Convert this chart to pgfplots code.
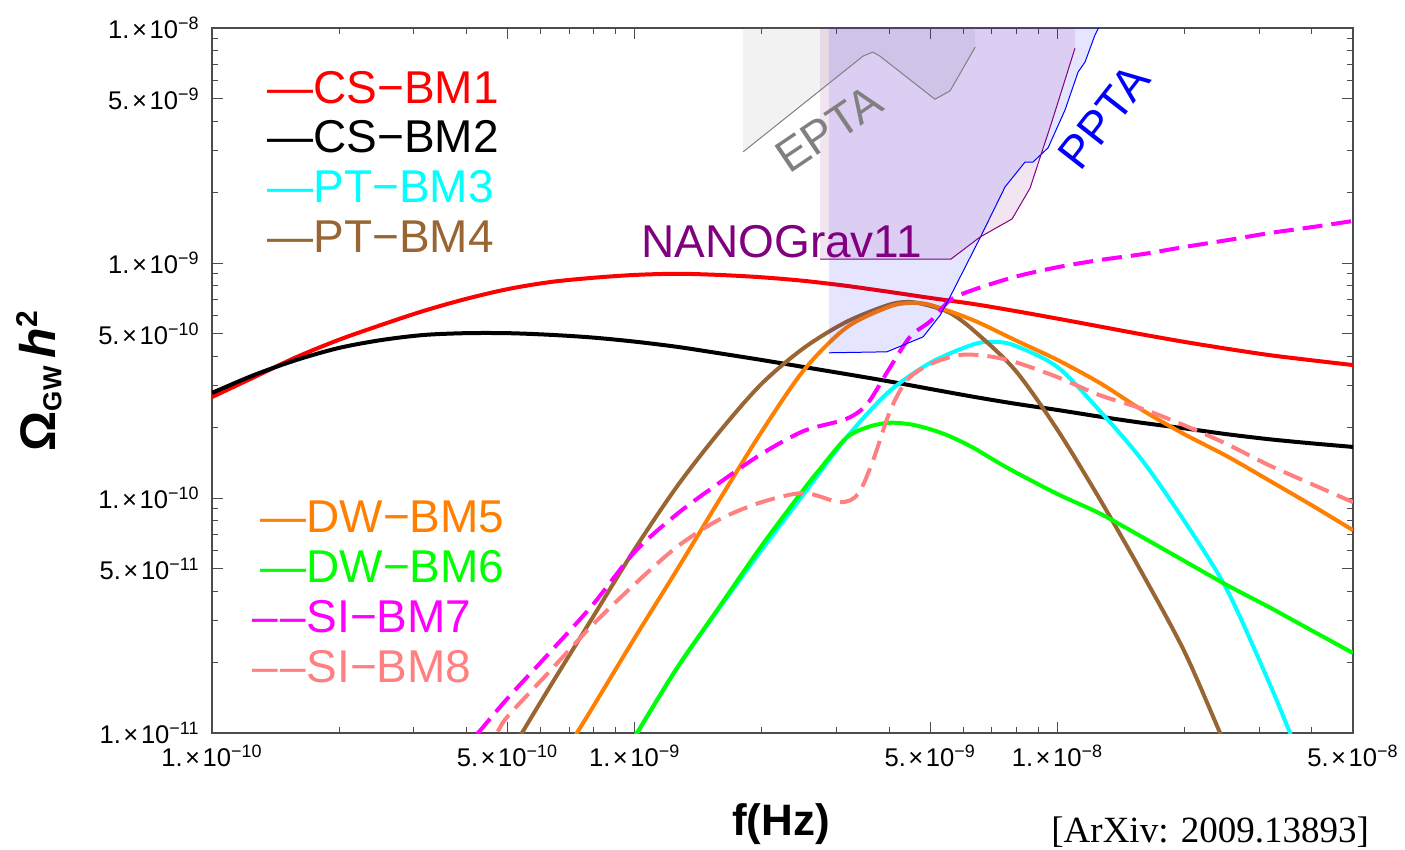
\documentclass[border=0pt]{standalone}
\usepackage{fontspec}
\setmainfont{Liberation Sans}
\newfontfamily\seriffont{Liberation Serif}
\usepackage{pgfplots}
\pgfplotsset{compat=1.18}
\definecolor{mbrown}{rgb}{0.6,0.4,0.2}
\definecolor{morange}{rgb}{1,0.5,0}
\definecolor{mpink}{rgb}{1,0.5,0.5}
\definecolor{mpurple}{rgb}{0.5,0,0.5}
\definecolor{mgreen}{rgb}{0,1,0}
\definecolor{mcyan}{rgb}{0,1,1}
\definecolor{mmag}{rgb}{1,0,1}
\newcommand{\tl}[2]{#1.\kern0.1em×\kern0.1em10\textsuperscript{−#2}}
\newcommand{\legfont}{\fontsize{23bp}{26bp}\selectfont}
\begin{document}
\begin{tikzpicture}
\useasboundingbox (-106bp,-58.5bp) rectangle (596.5bp,366.5bp);
\begin{axis}[
  at={(0,0)}, anchor=south west,
  width=570.5bp, height=352.5bp, scale only axis,
  xmode=log, ymode=log,
  xmin=1e-10, xmax=5e-8, ymin=1e-11, ymax=1e-8,
  xtick={1e-10,5e-10,1e-9,5e-9,1e-8,5e-8},
  xticklabels={\tl{1}{10},\tl{5}{10},\tl{1}{9},\tl{5}{9},\tl{1}{8},\tl{5}{8}},
  minor xtick={2e-10,3e-10,4e-10,6e-10,7e-10,8e-10,9e-10,2e-9,3e-9,4e-9,6e-9,7e-9,8e-9,9e-9,2e-8,3e-8,4e-8},
  ytick={1e-11,5e-11,1e-10,5e-10,1e-9,5e-9,1e-8},
  yticklabels={\tl{1}{11},\tl{5}{11},\tl{1}{10},\tl{5}{10},\tl{1}{9},\tl{5}{9},\tl{1}{8}},
  minor ytick={2e-11,3e-11,4e-11,6e-11,7e-11,8e-11,9e-11,2e-10,3e-10,4e-10,6e-10,7e-10,8e-10,9e-10,2e-9,3e-9,4e-9,6e-9,7e-9,8e-9,9e-9},
  tick label style={font=\fontsize{12.8bp}{14bp}\selectfont},
  xticklabel style={anchor=north, inner sep=0pt, yshift=-6bp},
  yticklabel style={anchor=east, inner sep=0pt, xshift=-6bp},
  axis line style={black!70, line width=0.6bp},
  every tick/.style={black!70, line width=0.5bp},
  major tick length=5.5bp, minor tick length=3bp,
  tick align=inside,
]
% CS-BM1
\addplot[red, line width=2bp, smooth] coordinates {
(1e-10,2.69e-10) (1.259e-10,3.27e-10) (1.585e-10,3.98e-10) (1.995e-10,4.71e-10) (2.512e-10,5.45e-10) (3.162e-10,6.25e-10) (3.981e-10,7.03e-10) (5.012e-10,7.75e-10) (6.31e-10,8.3e-10) (7.943e-10,8.65e-10) (1e-9,8.9e-10) (1.259e-9,9.0e-10) (1.585e-9,8.9e-10) (1.995e-9,8.7e-10) (2.512e-9,8.4e-10) (3.162e-9,8.0e-10) (3.981e-9,7.55e-10) (5.012e-9,7.1e-10) (6.31e-9,6.7e-10) (7.943e-9,6.25e-10) (1e-8,5.8e-10) (1.259e-8,5.37e-10) (1.585e-8,4.97e-10) (1.995e-8,4.62e-10) (2.512e-8,4.32e-10) (3.162e-8,4.06e-10) (3.981e-8,3.86e-10) (5e-8,3.68e-10)};
% CS-BM2
\addplot[black, line width=2bp, smooth] coordinates {
(1e-10,2.8e-10) (1.259e-10,3.34e-10) (1.585e-10,3.87e-10) (1.995e-10,4.35e-10) (2.512e-10,4.7e-10) (3.162e-10,4.94e-10) (3.981e-10,5.03e-10) (5.012e-10,5.03e-10) (6.31e-10,4.95e-10) (7.943e-10,4.82e-10) (1e-9,4.63e-10) (1.259e-9,4.4e-10) (1.585e-9,4.13e-10) (1.995e-9,3.87e-10) (2.512e-9,3.61e-10) (3.162e-9,3.37e-10) (3.981e-9,3.14e-10) (5.012e-9,2.91e-10) (6.31e-9,2.7e-10) (7.943e-9,2.52e-10) (1e-8,2.37e-10) (1.259e-8,2.22e-10) (1.585e-8,2.09e-10) (1.995e-8,1.98e-10) (2.512e-8,1.87e-10) (3.162e-8,1.78e-10) (3.981e-8,1.71e-10) (5e-8,1.65e-10)};
% PT-BM3
\addplot[mcyan, line width=2bp, smooth] coordinates {
(9.08e-10,7.3e-12) (1.0125e-9,1e-11) (1.259e-9,1.89e-11) (1.585e-9,3.4e-11) (1.995e-9,6.0e-11) (2.512e-9,1.04e-10) (3.162e-9,1.8e-10) (3.981e-9,2.82e-10) (5.012e-9,3.77e-10) (6.31e-9,4.5e-10) (7.08e-9,4.62e-10) (7.943e-9,4.45e-10) (1e-8,3.61e-10) (1.259e-8,2.35e-10) (1.585e-8,1.45e-10) (1.995e-8,8.0e-11) (2.512e-8,4.1e-11) (3.162e-8,1.65e-11) (3.55e-8,1e-11) (3.85e-8,7e-12)};
% PT-BM4
\addplot[mbrown, line width=2bp, smooth] coordinates {
(4.85e-10,7.2e-12) (5.41e-10,1e-11) (6.31e-10,1.58e-11) (7.943e-10,3.09e-11) (1e-9,6.06e-11) (1.259e-9,1.12e-10) (1.585e-9,1.91e-10) (1.995e-9,3.06e-10) (2.512e-9,4.35e-10) (3.162e-9,5.61e-10) (3.981e-9,6.63e-10) (4.48e-9,6.83e-10) (5.012e-9,6.56e-10) (5.57e-9,6.13e-10) (6.31e-9,5.2e-10) (7.943e-9,3.5e-10) (1e-8,1.95e-10) (1.259e-8,9.9e-11) (1.585e-8,4.8e-11) (1.995e-8,2.23e-11) (2.425e-8,1e-11) (2.70e-8,6.4e-12)};
% DW-BM5
\addplot[morange, line width=2bp, smooth] coordinates {
(6.55e-10,7.2e-12) (7.30e-10,1e-11) (7.943e-10,1.28e-11) (1e-9,2.54e-11) (1.259e-9,4.95e-11) (1.585e-9,9.8e-11) (1.995e-9,1.91e-10) (2.512e-9,3.5e-10) (3.162e-9,5.3e-10) (3.981e-9,6.5e-10) (4.48e-9,6.76e-10) (5.012e-9,6.63e-10) (6.31e-9,5.72e-10) (7.943e-9,4.7e-10) (1e-8,3.87e-10) (1.259e-8,3.09e-10) (1.585e-8,2.37e-10) (1.995e-8,1.87e-10) (2.512e-8,1.51e-10) (3.162e-8,1.19e-10) (3.981e-8,9.35e-11) (5e-8,7.3e-11)};
% DW-BM6
\addplot[mgreen, line width=2bp, smooth] coordinates {
(9.08e-10,7.3e-12) (1.0125e-9,1e-11) (1.259e-9,1.89e-11) (1.585e-9,3.44e-11) (1.995e-9,6.25e-11) (2.512e-9,1.09e-10) (2.744e-9,1.33e-10) (3.162e-9,1.8e-10) (3.545e-9,2.0e-10) (3.981e-9,2.09e-10) (4.48e-9,2.06e-10) (5.012e-9,1.96e-10) (5.57e-9,1.83e-10) (6.31e-9,1.64e-10) (7.08e-9,1.45e-10) (7.943e-9,1.29e-10) (1e-8,1.04e-10) (1.259e-8,8.6e-11) (1.585e-8,6.83e-11) (1.995e-8,5.4e-11) (2.512e-8,4.27e-11) (3.162e-8,3.44e-11) (3.981e-8,2.74e-11) (5e-8,2.19e-11)};
% SI-BM7
\addplot[mmag, line width=2bp, smooth, dash pattern=on 10bp off 4.5bp] coordinates {
(3.82e-10,8e-12) (4.26e-10,1e-11) (5.012e-10,1.41e-11) (6.31e-10,2.21e-11) (7.943e-10,3.5e-11) (1e-9,5.9e-11) (1.259e-9,8.55e-11) (1.585e-9,1.16e-10) (1.995e-9,1.54e-10) (2.512e-9,1.93e-10) (3.162e-9,2.17e-10) (3.545e-9,2.51e-10) (3.981e-9,3.5e-10) (4.48e-9,4.85e-10) (5.012e-9,5.67e-10) (5.57e-9,6.95e-10) (6.31e-9,7.68e-10) (7.943e-9,8.74e-10) (1e-8,9.6e-10) (1.259e-8,1.03e-9) (1.585e-8,1.09e-9) (1.995e-8,1.17e-9) (2.512e-8,1.25e-9) (3.162e-8,1.34e-9) (3.981e-8,1.42e-9) (5e-8,1.51e-9)};
% SI-BM8
\addplot[mpink, line width=2bp, smooth, dash pattern=on 10bp off 4.5bp] coordinates {
(4.35e-10,8e-12) (4.72e-10,1e-11) (5.012e-10,1.18e-11) (6.31e-10,1.84e-11) (7.943e-10,2.88e-11) (1e-9,4.3e-11) (1.259e-9,6.2e-11) (1.585e-9,8.1e-11) (1.995e-9,9.6e-11) (2.512e-9,1.05e-10) (3.06e-9,9.6e-11) (3.375e-9,1.04e-10) (3.66e-9,1.44e-10) (4.02e-9,2.35e-10) (4.41e-9,3.18e-10) (5.012e-9,3.72e-10) (5.88e-9,4.06e-10) (6.82e-9,4.02e-10) (7.943e-9,3.79e-10) (1e-8,3.27e-10) (1.259e-8,2.74e-10) (1.585e-8,2.4e-10) (1.995e-8,2.04e-10) (2.512e-8,1.7e-10) (3.162e-8,1.38e-10) (3.981e-8,1.15e-10) (5e-8,9.6e-11)};
% EPTA region
\addplot[draw=none, fill=gray, fill opacity=0.1] coordinates {
(1.804e-9,1e-8) (1.804e-9,2.97e-9) (3.47e-9,7.6e-9) (3.66e-9,7.9e-9) (3.80e-9,7.6e-9) (5.13e-9,4.98e-9) (5.57e-9,5.4e-9) (6.39e-9,8.3e-9) (6.39e-9,1e-8)} -- cycle;
% PPTA region
\addplot[draw=none, fill=blue, fill opacity=0.1] coordinates {
(2.88e-9,1e-8) (2.88e-9,4.15e-10) (3.95e-9,4.19e-10) (4.81e-9,4.85e-10) (5.28e-9,6.0e-10) (5.57e-9,7.17e-10) (6.56e-9,1.28e-9) (7.52e-9,2.11e-9) (8.38e-9,2.69e-9) (8.75e-9,2.69e-9) (9.50e-9,3.09e-9) (1.042e-8,4.48e-9) (1.119e-8,6.5e-9) (1.162e-8,7.17e-9) (1.227e-8,9.35e-9) (1.25e-8,1e-8)} -- cycle;
% NANOGrav11 region
\addplot[draw=none, fill=mpurple, fill opacity=0.1] coordinates {
(2.744e-9,1e-8) (2.744e-9,1.04e-9) (5.60e-9,1.04e-9) (6.56e-9,1.29e-9) (7.81e-9,1.54e-9) (8.61e-9,2.08e-9) (9.71e-9,4.02e-9) (1.10e-8,8.2e-9) (1.10e-8,1e-8)} -- cycle;
% boundaries
\addplot[gray, line width=0.5bp] coordinates {
(1.804e-9,2.97e-9) (3.47e-9,7.6e-9) (3.66e-9,7.9e-9) (3.80e-9,7.6e-9) (5.13e-9,4.98e-9) (5.57e-9,5.4e-9) (6.39e-9,8.3e-9)};
\addplot[blue, line width=0.5bp] coordinates {
(2.88e-9,4.15e-10) (3.95e-9,4.19e-10) (4.81e-9,4.85e-10) (5.28e-9,6.0e-10) (5.57e-9,7.17e-10) (6.56e-9,1.28e-9) (7.52e-9,2.11e-9) (8.38e-9,2.69e-9) (8.75e-9,2.69e-9) (9.50e-9,3.09e-9) (1.042e-8,4.48e-9) (1.119e-8,6.5e-9) (1.162e-8,7.17e-9) (1.227e-8,9.35e-9) (1.25e-8,1e-8)};
\addplot[mpurple, line width=0.5bp] coordinates {
(2.744e-9,1.04e-9) (5.60e-9,1.04e-9) (6.56e-9,1.29e-9) (7.81e-9,1.54e-9) (8.61e-9,2.08e-9) (9.71e-9,4.02e-9) (1.10e-8,8.2e-9)};
\end{axis}
% legend-like labels
\begin{scope}[every node/.style={inner sep=0pt, anchor=base west, font=\legfont}]
\node[text=red] at (27.5bp,314.5bp) {—CS−BM1};
\node[text=black] at (27.5bp,290bp) {—CS−BM2};
\node[text=mcyan] at (27.5bp,265bp) {—PT−BM3};
\node[text=mbrown] at (27.5bp,240bp) {—PT−BM4};
\node[text=morange] at (24bp,100bp) {—DW−BM5};
\node[text=mgreen] at (24bp,75bp) {—DW−BM6};
\node[text=mmag] at (20bp,50bp) {–\kern1.5bp–SI−BM7};
\node[text=mpink] at (20bp,25.5bp) {–\kern1.5bp–SI−BM8};
\node[text=mpurple] at (214.5bp,237.5bp) {NANOGrav11};
\end{scope}
\node[inner sep=0pt, text=gray, rotate=34, font=\legfont] at (308.5bp,302bp) {EPTA};
\node[inner sep=0pt, text=blue, rotate=52, font=\legfont] at (446bp,308bp) {PPTA};
\node[inner sep=0pt, rotate=90, font=\fontsize{25bp}{28bp}\selectfont\bfseries] at (-86.5bp,176bp)
  {Ω{\fontsize{13bp}{14bp}\selectfont\raisebox{-3bp}{GW}}\,\textit{h}\raisebox{9bp}{\fontsize{15bp}{16bp}\selectfont 2}};
\node[inner sep=0pt, anchor=base, font=\fontsize{22bp}{25bp}\selectfont\bfseries] at (284.5bp,-51bp) {f(Hz)};
\node[inner sep=0pt, anchor=base west, font=\fontsize{18.5bp}{21bp}\selectfont\seriffont] at (419.5bp,-54.5bp) {[ArXiv: 2009.13893]};
\end{tikzpicture}
\end{document}
